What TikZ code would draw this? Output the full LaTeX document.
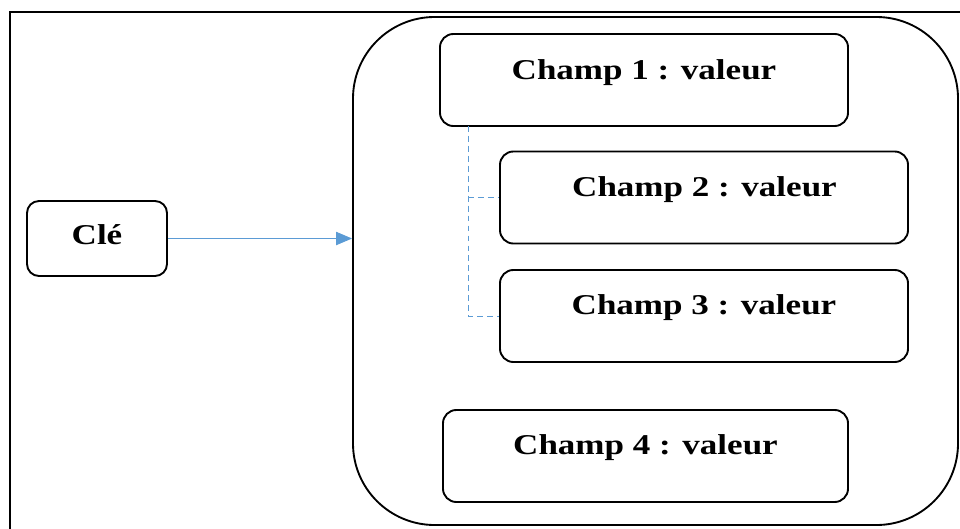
\documentclass[tikz,border=0pt]{standalone}
\usepackage{fontspec}
\newfontfamily\boxfont{Liberation Serif}[FakeStretch=1.22]
\usetikzlibrary{arrows.meta}
\definecolor{lienbleu}{HTML}{5B9BD5}
\begin{document}
\begin{tikzpicture}[x=0.03cm,y=-0.03cm,>={Triangle[length=0.48cm,width=0.4cm]},
	champ/.style={draw,line width=1.6pt,rounded corners=0.4cm,minimum width=12.24cm,minimum height=2.76cm,inner sep=0pt},
	txt/.style={font=\boxfont\bfseries\fontsize{24.5}{28}\selectfont,inner sep=0pt},
	lien/.style={lienbleu,line width=0.7pt,dash pattern=on 5pt off 3.5pt}]
	\useasboundingbox (0,0) rectangle (960,528);
	\draw[line width=2pt] (10,540) -- (10,12) -- (970,12);
	\node[draw,line width=1.6pt,rounded corners=2.45cm,minimum width=18.15cm,minimum height=15.24cm] (bloc) at (655.5,271) {};
	\node[draw,line width=1.6pt,rounded corners=0.36cm,minimum width=4.2cm,minimum height=2.25cm] (cle) at (97,238.5) {};
	\node[txt] (tcle) at (97,235) {Clé};
	\node[champ] (c1) at (644,80) {};
	\node[champ] (c2) at (704,197.5) {};
	\node[champ] (c3) at (704,316) {};
	\node[champ,minimum width=12.15cm] (c4) at (645.5,456) {};
	\node[txt] (t1) at (644,72.5) {Champ 1 : valeur};
	\node[txt] (t2) at (704.5,189.5) {Champ 2 : valeur};
	\node[txt] (t3) at (704,307.5) {Champ 3 : valeur};
	\node[txt] (t4) at (645.5,447.5) {Champ 4 : valeur};
	\draw[->,lienbleu,line width=0.8pt] (cle.east) -- (cle.east -| bloc.west);
	\coordinate (d) at (468,126);
	\draw[lien] (d) |- (c3.west);
	\draw[lien] (d |- c2.west) -- (c2.west);
\end{tikzpicture}
\end{document}
